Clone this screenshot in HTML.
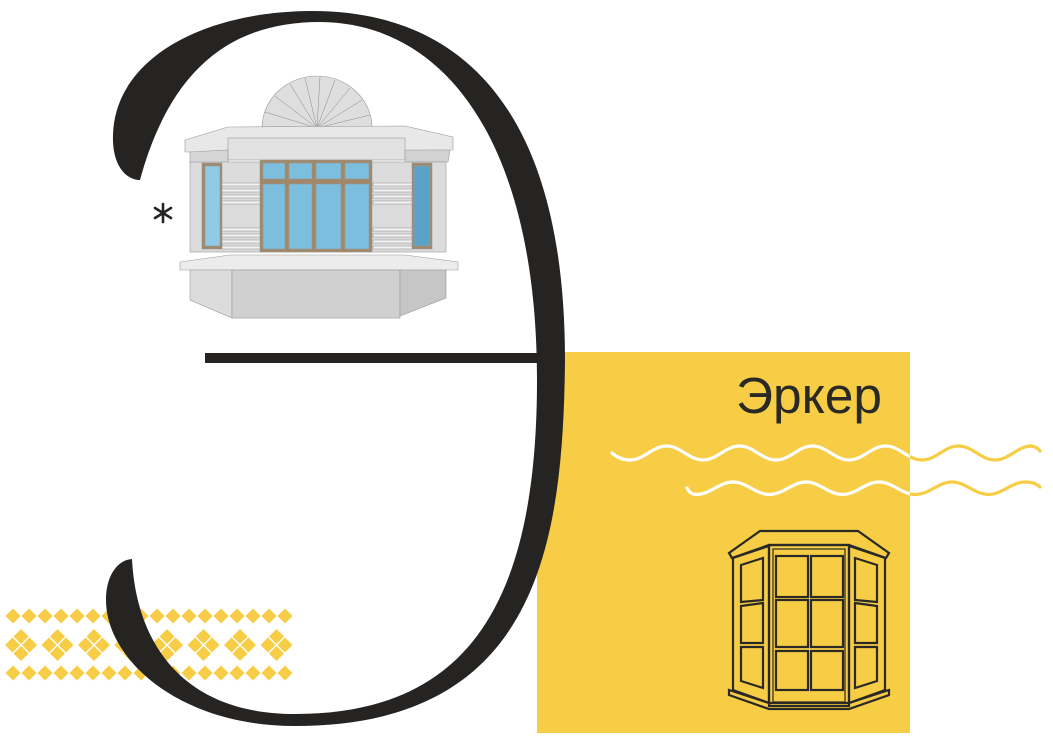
<!DOCTYPE html>
<html><head><meta charset="utf-8"><style>
html,body{margin:0;padding:0;background:#fff;}
body{width:1053px;height:743px;overflow:hidden;position:relative;}
svg{position:absolute;left:0;top:0;}
</style></head><body>
<svg width="1053" height="743" viewBox="0 0 1053 743" xmlns="http://www.w3.org/2000/svg">
<defs>
<g id="d"><polygon points="0,-7.5 7.5,0 0,7.5 -7.5,0" fill="#f6cd45"/></g>
<g id="c"><use href="#d" x="0" y="-8.5"/><use href="#d" x="0" y="8.5"/><use href="#d" x="-8.5" y="0"/><use href="#d" x="8.5" y="0"/></g>
</defs>
<rect x="537" y="352" width="373" height="381" fill="#f6cd45"/>
<g>
<use href="#d" x="13" y="616"/><use href="#d" x="29" y="616"/><use href="#d" x="45" y="616"/><use href="#d" x="61" y="616"/><use href="#d" x="77" y="616"/><use href="#d" x="93" y="616"/><use href="#d" x="109" y="616"/><use href="#d" x="125" y="616"/><use href="#d" x="141" y="616"/><use href="#d" x="157" y="616"/><use href="#d" x="173" y="616"/><use href="#d" x="189" y="616"/><use href="#d" x="205" y="616"/><use href="#d" x="221" y="616"/><use href="#d" x="237" y="616"/><use href="#d" x="253" y="616"/><use href="#d" x="269" y="616"/><use href="#d" x="285" y="616"/>
<use href="#d" x="13" y="673"/><use href="#d" x="29" y="673"/><use href="#d" x="45" y="673"/><use href="#d" x="61" y="673"/><use href="#d" x="77" y="673"/><use href="#d" x="93" y="673"/><use href="#d" x="109" y="673"/><use href="#d" x="125" y="673"/><use href="#d" x="141" y="673"/><use href="#d" x="157" y="673"/><use href="#d" x="173" y="673"/><use href="#d" x="189" y="673"/><use href="#d" x="205" y="673"/><use href="#d" x="221" y="673"/><use href="#d" x="237" y="673"/><use href="#d" x="253" y="673"/><use href="#d" x="269" y="673"/><use href="#d" x="285" y="673"/>
<use href="#c" x="21" y="645"/><use href="#c" x="57.5" y="645"/><use href="#c" x="94" y="645"/><use href="#c" x="130.5" y="645"/><use href="#c" x="167" y="645"/><use href="#c" x="203.5" y="645"/><use href="#c" x="240" y="645"/><use href="#c" x="276.5" y="645"/>
</g>
<path d="M138 180 C122 178,112 160,113 135 C115 60,200 12,310 11 C470 10,565 120,565 360 C563 540,540 726,295 726 C180 726,106 660,106 600 C106 575,118 560,132 559 C136 640,180 714,295 714 C470 714,537 600,537 380 C537 150,450 23,320 22 C230 22,170 70,140 180 Z" fill="#252422"/>
<rect x="205" y="353" width="335" height="10" fill="#252422"/>
<g stroke="#252422" stroke-width="2.6" stroke-linecap="round">
<line x1="163" y1="204" x2="163" y2="222"/><line x1="155" y1="208" x2="171" y2="218"/><line x1="155" y1="218" x2="171" y2="208"/>
</g>
<g stroke="#9a9a9a" stroke-width="0.6">
<path d="M262 128 A55 52 0 0 1 372 128 Z" fill="#dedede"/>
<g stroke="#888" stroke-width="0.5">
<line x1="317" y1="128" x2="265" y2="112"/><line x1="317" y1="128" x2="275" y2="96"/><line x1="317" y1="128" x2="290" y2="84"/><line x1="317" y1="128" x2="305" y2="78"/><line x1="317" y1="128" x2="320" y2="77"/><line x1="317" y1="128" x2="335" y2="80"/><line x1="317" y1="128" x2="350" y2="88"/><line x1="317" y1="128" x2="362" y2="100"/><line x1="317" y1="128" x2="370" y2="115"/>
</g>
<polygon points="185,140 228,127 405,126 453,137 453,150 185,152" fill="#e8e8e8"/>
<polygon points="190,152 228,150 228,162 190,163" fill="#d6d6d6"/>
<rect x="228" y="138" width="177" height="22" fill="#e2e2e2"/>
<polygon points="405,150 450,150 448,162 405,162" fill="#d2d2d2"/>
<rect x="190" y="162" width="256" height="90" fill="#dcdcdc"/>
<rect x="202" y="163" width="20" height="86" fill="#a08868"/>
<rect x="205" y="166" width="15" height="80" fill="#8fcbe6"/>
<rect x="412" y="163" width="20" height="86" fill="#a08868"/>
<rect x="414" y="166" width="16" height="80" fill="#5aa2c8"/>
<rect x="260" y="160" width="112" height="92" fill="#a08868"/>
<rect x="263" y="163" width="22" height="16" fill="#7cbedd"/><rect x="289" y="163" width="23" height="16" fill="#7cbedd"/><rect x="316" y="163" width="25" height="16" fill="#7cbedd"/><rect x="345" y="163" width="24" height="16" fill="#7cbedd"/>
<rect x="263" y="184" width="22" height="65" fill="#7cbedd"/><rect x="289" y="184" width="23" height="65" fill="#7cbedd"/><rect x="316" y="184" width="25" height="65" fill="#7cbedd"/><rect x="345" y="184" width="24" height="65" fill="#7cbedd"/>
<g fill="#f2f2f2">
<rect x="222" y="183" width="38" height="3"/><rect x="222" y="189" width="38" height="3"/><rect x="222" y="195" width="38" height="3"/><rect x="222" y="201" width="38" height="3"/>
<rect x="222" y="228" width="38" height="3"/><rect x="222" y="234" width="38" height="3"/><rect x="222" y="240" width="38" height="3"/><rect x="222" y="246" width="38" height="3"/>
<rect x="373" y="183" width="39" height="3"/><rect x="373" y="189" width="39" height="3"/><rect x="373" y="195" width="39" height="3"/><rect x="373" y="201" width="39" height="3"/>
<rect x="373" y="228" width="39" height="3"/><rect x="373" y="234" width="39" height="3"/><rect x="373" y="240" width="39" height="3"/><rect x="373" y="246" width="39" height="3"/>
</g>
<polygon points="180,262 230,255 405,255 458,262 458,270 180,270" fill="#ececec"/>
<polygon points="190,270 232,270 232,318 190,300" fill="#dcdcdc"/>
<rect x="232" y="270" width="168" height="48" fill="#d0d0d0"/>
<polygon points="400,270 446,270 446,298 400,316" fill="#c6c6c6"/>
</g>
<text x="736" y="413" font-family="Liberation Sans, sans-serif" font-size="51" fill="#2a2926" textLength="146" lengthAdjust="spacingAndGlyphs">Эркер</text>
<clipPath id="in"><rect x="537" y="352" width="373" height="381"/></clipPath>
<clipPath id="out"><rect x="910" y="0" width="200" height="743"/></clipPath>
<defs>
<path id="w1" d="M612 453 Q620 460 630 460 C644 460 652.5 446 666.5 446 S689 460 703 460 S725.5 446 739.5 446 S762 460 776 460 S798.5 446 812.5 446 S835 460 849 460 S871.5 446 885.5 446 S908 460 922 460 S944.5 446 958.5 446 S981 460 995 460 S1017.5 446 1031.5 446 Q1037 447 1040 451"/>
<path id="w2" d="M687 488 Q690 494.5 696.5 494.5 C710.5 494.5 719 482 733 482 S755.5 494.5 769.5 494.5 S792 482 806 482 S828.5 494.5 842.5 494.5 S865 482 879 482 S901.5 494.5 915.5 494.5 S938 482 952 482 S974.5 494.5 988.5 494.5 S1011 482 1025 482 Q1035 482 1040 487"/>
</defs>
<g fill="none" stroke="#fff" stroke-width="3.2" stroke-linecap="round" clip-path="url(#in)"><use href="#w1"/><use href="#w2"/></g>
<g fill="none" stroke="#f6cd45" stroke-width="3.2" stroke-linecap="round" clip-path="url(#out)"><use href="#w1"/><use href="#w2"/></g>
<g fill="none" stroke="#2a2926" stroke-width="2.2">
<polygon points="729,553 760,531 858,531 889,553 886,558 849,545 769,545 732,558"/>
<rect x="769" y="545" width="80" height="161"/>
<rect x="773" y="549" width="72" height="153" stroke-width="1.2"/>
<rect x="776" y="556" width="32" height="41"/><rect x="811" y="556" width="32" height="41"/>
<rect x="776" y="600" width="32" height="47"/><rect x="811" y="600" width="32" height="47"/>
<rect x="776" y="651" width="32" height="39"/><rect x="811" y="651" width="32" height="39"/>
<polygon points="733,558 769,546 769,703 733,690"/>
<polygon points="741,565 763,558 763,600 741,602"/><polygon points="741,606 763,603 763,643 741,643"/><polygon points="741,647 763,647 763,688 741,681"/>
<polygon points="849,546 885,558 885,690 849,703"/>
<polygon points="855,558 877,565 877,602 855,600"/><polygon points="855,603 877,606 877,643 855,643"/><polygon points="855,647 877,647 877,681 855,688"/>
<polygon points="729,690 769,703 849,703 889,690 889,695 849,709 769,709 729,695"/>
</g>
</svg>
</body></html>
